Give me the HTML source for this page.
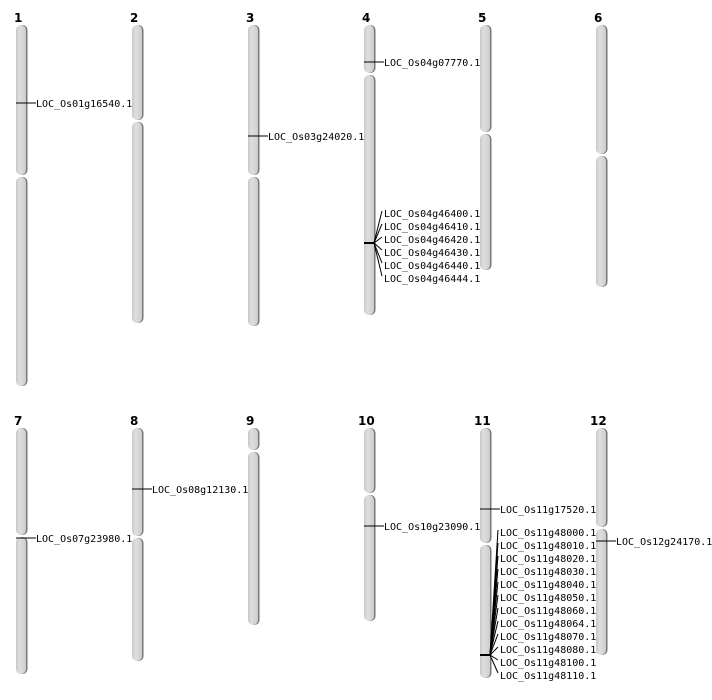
<!DOCTYPE html>
<html><head><meta charset="utf-8"><style>
body{margin:0;background:#fff}
svg{display:block}
.n{font:bold 12px "DejaVu Sans","Liberation Sans",sans-serif;fill:#000}
.t{font:10px "DejaVu Sans Mono","Liberation Mono",monospace;fill:#000}
.s{fill:#777}
.b{fill:url(#g)}
line{stroke:#000;stroke-width:1}
</style></head><body>
<svg width="712" height="700" viewBox="0 0 712 700" xmlns="http://www.w3.org/2000/svg">
<defs><linearGradient id="g" x1="0" x2="1" y1="0" y2="0">
<stop offset="0" stop-color="#c8c8c8"/><stop offset="0.35" stop-color="#dedede"/><stop offset="1" stop-color="#cdcdcd"/></linearGradient></defs>

<text class="n" x="14" y="22">1</text><text class="n" x="130" y="22">2</text><text class="n" x="246" y="22">3</text>
<text class="n" x="362" y="22">4</text><text class="n" x="478" y="22">5</text><text class="n" x="594" y="22">6</text>
<text class="n" x="14" y="425">7</text><text class="n" x="130" y="425">8</text><text class="n" x="246" y="425">9</text>
<text class="n" x="358" y="425">10</text><text class="n" x="474" y="425">11</text><text class="n" x="590" y="425">12</text>

<!-- chr1 -->
<rect class="s" x="17" y="25" width="10.5" height="150" rx="5"/><rect class="b" x="16" y="25" width="10" height="150" rx="5"/>
<rect class="s" x="17" y="177" width="10.5" height="209" rx="5"/><rect class="b" x="16" y="177" width="10" height="209" rx="5"/>
<!-- chr2 -->
<rect class="s" x="133" y="25" width="10.5" height="95" rx="5"/><rect class="b" x="132" y="25" width="10" height="95" rx="5"/>
<rect class="s" x="133" y="122" width="10.5" height="201" rx="5"/><rect class="b" x="132" y="122" width="10" height="201" rx="5"/>
<!-- chr3 -->
<rect class="s" x="249" y="25" width="10.5" height="150" rx="5"/><rect class="b" x="248" y="25" width="10" height="150" rx="5"/>
<rect class="s" x="249" y="177" width="10.5" height="149" rx="5"/><rect class="b" x="248" y="177" width="10" height="149" rx="5"/>
<!-- chr4 -->
<rect class="s" x="365" y="25" width="10.5" height="48" rx="5"/><rect class="b" x="364" y="25" width="10" height="48" rx="5"/>
<rect class="s" x="365" y="75" width="10.5" height="240" rx="5"/><rect class="b" x="364" y="75" width="10" height="240" rx="5"/>
<!-- chr5 -->
<rect class="s" x="481" y="25" width="10.5" height="107" rx="5"/><rect class="b" x="480" y="25" width="10" height="107" rx="5"/>
<rect class="s" x="481" y="134" width="10.5" height="136" rx="5"/><rect class="b" x="480" y="134" width="10" height="136" rx="5"/>
<!-- chr6 -->
<rect class="s" x="597" y="25" width="10.5" height="129" rx="5"/><rect class="b" x="596" y="25" width="10" height="129" rx="5"/>
<rect class="s" x="597" y="156" width="10.5" height="131" rx="5"/><rect class="b" x="596" y="156" width="10" height="131" rx="5"/>
<!-- chr7 -->
<rect class="s" x="17" y="428" width="10.5" height="107" rx="5"/><rect class="b" x="16" y="428" width="10" height="107" rx="5"/>
<rect class="s" x="17" y="537" width="10.5" height="137" rx="5"/><rect class="b" x="16" y="537" width="10" height="137" rx="5"/>
<!-- chr8 -->
<rect class="s" x="133" y="428" width="10.5" height="108" rx="5"/><rect class="b" x="132" y="428" width="10" height="108" rx="5"/>
<rect class="s" x="133" y="538" width="10.5" height="123" rx="5"/><rect class="b" x="132" y="538" width="10" height="123" rx="5"/>
<!-- chr9 -->
<rect class="s" x="249" y="428" width="10.5" height="22" rx="5"/><rect class="b" x="248" y="428" width="10" height="22" rx="5"/>
<rect class="s" x="249" y="452" width="10.5" height="173" rx="5"/><rect class="b" x="248" y="452" width="10" height="173" rx="5"/>
<!-- chr10 -->
<rect class="s" x="365" y="428" width="10.5" height="65" rx="5"/><rect class="b" x="364" y="428" width="10" height="65" rx="5"/>
<rect class="s" x="365" y="495" width="10.5" height="126" rx="5"/><rect class="b" x="364" y="495" width="10" height="126" rx="5"/>
<!-- chr11 -->
<rect class="s" x="481" y="428" width="10.5" height="115" rx="5"/><rect class="b" x="480" y="428" width="10" height="115" rx="5"/>
<rect class="s" x="481" y="545" width="10.5" height="133" rx="5"/><rect class="b" x="480" y="545" width="10" height="133" rx="5"/>
<!-- chr12 -->
<rect class="s" x="597" y="428" width="10.5" height="99" rx="5"/><rect class="b" x="596" y="428" width="10" height="99" rx="5"/>
<rect class="s" x="597" y="529" width="10.5" height="126" rx="5"/><rect class="b" x="596" y="529" width="10" height="126" rx="5"/>

<!-- single markers -->
<line x1="16" y1="103" x2="36" y2="103" stroke="#333"/><text class="t" x="36" y="107">LOC_Os01g16540.1</text>
<line x1="248" y1="136" x2="268" y2="136" stroke="#333"/><text class="t" x="268" y="140">LOC_Os03g24020.1</text>
<line x1="364" y1="62" x2="384" y2="62" stroke="#333"/><text class="t" x="384" y="66">LOC_Os04g07770.1</text>
<line x1="16" y1="538" x2="36" y2="538" stroke="#333"/><text class="t" x="36" y="542">LOC_Os07g23980.1</text>
<line x1="132" y1="489" x2="152" y2="489" stroke="#333"/><text class="t" x="152" y="493">LOC_Os08g12130.1</text>
<line x1="364" y1="526" x2="384" y2="526" stroke="#333"/><text class="t" x="384" y="530">LOC_Os10g23090.1</text>
<line x1="480" y1="509" x2="500" y2="509" stroke="#333"/><text class="t" x="500" y="513">LOC_Os11g17520.1</text>
<line x1="596" y1="541" x2="616" y2="541" stroke="#333"/><text class="t" x="616" y="545">LOC_Os12g24170.1</text>

<!-- chr4 cluster -->
<line x1="364" y1="243" x2="374" y2="243" style="stroke-width:2"/>
<line x1="374" y1="243" x2="382" y2="211"/><line x1="374" y1="243" x2="382" y2="224"/>
<line x1="374" y1="243" x2="382" y2="237"/><line x1="374" y1="243" x2="382" y2="250"/>
<line x1="374" y1="243" x2="382" y2="263"/><line x1="374" y1="243" x2="382" y2="276"/>
<text class="t" x="384" y="217">LOC_Os04g46400.1</text><text class="t" x="384" y="230">LOC_Os04g46410.1</text>
<text class="t" x="384" y="243">LOC_Os04g46420.1</text><text class="t" x="384" y="256">LOC_Os04g46430.1</text>
<text class="t" x="384" y="269">LOC_Os04g46440.1</text><text class="t" x="384" y="282">LOC_Os04g46444.1</text>

<!-- chr11 cluster -->
<line x1="480" y1="655" x2="490" y2="655" style="stroke-width:2"/>
<line x1="490" y1="655" x2="498" y2="530"/><line x1="490" y1="655" x2="498" y2="543"/>
<line x1="490" y1="655" x2="498" y2="556"/><line x1="490" y1="655" x2="498" y2="569"/>
<line x1="490" y1="655" x2="498" y2="582"/><line x1="490" y1="655" x2="498" y2="595"/>
<line x1="490" y1="655" x2="498" y2="608"/><line x1="490" y1="655" x2="498" y2="621"/>
<line x1="490" y1="655" x2="498" y2="634"/><line x1="490" y1="655" x2="498" y2="647"/>
<line x1="490" y1="655" x2="498" y2="660"/><line x1="490" y1="655" x2="498" y2="673"/>
<text class="t" x="500" y="536">LOC_Os11g48000.1</text><text class="t" x="500" y="549">LOC_Os11g48010.1</text>
<text class="t" x="500" y="562">LOC_Os11g48020.1</text><text class="t" x="500" y="575">LOC_Os11g48030.1</text>
<text class="t" x="500" y="588">LOC_Os11g48040.1</text><text class="t" x="500" y="601">LOC_Os11g48050.1</text>
<text class="t" x="500" y="614">LOC_Os11g48060.1</text><text class="t" x="500" y="627">LOC_Os11g48064.1</text>
<text class="t" x="500" y="640">LOC_Os11g48070.1</text><text class="t" x="500" y="653">LOC_Os11g48080.1</text>
<text class="t" x="500" y="666">LOC_Os11g48100.1</text><text class="t" x="500" y="679">LOC_Os11g48110.1</text>
</svg>
</body></html>
